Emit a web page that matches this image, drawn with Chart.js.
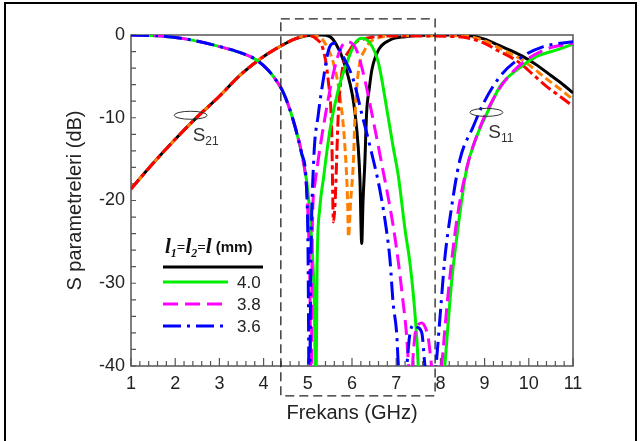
<!DOCTYPE html>
<html>
<head>
<meta charset="utf-8">
<script src="https://cdn.jsdelivr.net/npm/chart.js@4.4.0/dist/chart.umd.min.js"></script>
<style>
  html, body { margin: 0; padding: 0; background: #fff; overflow: hidden; }
  #wrap { position: relative; width: 642px; height: 441px; overflow: hidden; }
  #frame { position: absolute; left: 4px; top: 2px; width: 633px; height: 470px;
           border: 2px solid #000; box-sizing: border-box; pointer-events: none; }
</style>
</head>
<body>
<div id="wrap"><canvas id="chart"></canvas><div id="frame"></div></div>
<script>
// S21 rising part shared by the black / orange / red curves
const s21RiseX = [1, 1.5, 2, 2.5, 3, 3.5, 4, 4.4, 4.7, 5.0];
const s21RiseY = [-18.6, -15.5, -12.6, -9.9, -7.4, -4.7, -2.6, -1.3, -0.5, -0.05];

const blackX = [5.3, 5.5, 5.65, 5.8, 6.0, 6.07, 6.14, 6.18, 6.22, 6.25, 6.29, 6.33, 6.39, 6.45, 6.6, 6.86, 7.2, 7.8, 8.5, 9.0, 9.3, 9.6, 9.9, 10.2, 10.5, 10.8, 11];
const blackY = [0, -0.2, -1.2, -3.0, -7.0, -9.5, -13.5, -17.5, -25.2, -20, -15.5, -9.5, -6.5, -4.2, -1.8, -0.6, -0.2, 0, 0, -0.5, -1.2, -1.9, -2.7, -3.7, -4.9, -6.1, -7.0];

const orangeX = [5.28, 5.45, 5.58, 5.73, 5.84, 5.9, 5.92, 5.97, 6.03, 6.07, 6.14, 6.29, 6.56, 7.0, 8.5, 9.0, 9.27, 9.6, 9.85, 10.1, 10.4, 10.7, 11];
const orangeY = [-0.3, -1.6, -3.4, -7.5, -13.5, -20, -24.4, -20, -15.5, -9.5, -4.6, -1.8, -0.4, -0.1, -0.1, -0.7, -1.4, -2.3, -3.0, -4.0, -5.3, -6.5, -7.8];

const redX = [5.2, 5.35, 5.46, 5.54, 5.58, 5.62, 5.65, 5.69, 5.77, 5.95, 6.33, 7.0, 8.4, 9.0, 9.27, 9.6, 9.8, 10.1, 10.4, 10.7, 11];
const redY = [-0.5, -1.8, -5.4, -11.5, -22.6, -20, -15.5, -9.5, -4.6, -1.8, -0.4, -0.1, -0.2, -1.0, -1.8, -2.7, -3.4, -4.8, -6.2, -7.4, -8.6];

// S11 falling part shared by l = 4.0 / 3.8 / 3.6
const s11FallX = [1, 1.6, 2.26, 3.01, 3.4, 3.77, 4.0, 4.22, 4.45, 4.67, 4.86];
const s11FallY = [0, -0.1, -0.5, -1.4, -2.0, -2.8, -3.7, -5.0, -7.0, -10.3, -14.3];

const greenX = [4.97, 5.03, 5.1, 5.15, 5.18, 5.21, 5.27, 5.35, 5.5, 5.69, 5.88, 6.07, 6.22, 6.41, 6.6, 6.78, 6.93, 7.05, 7.2, 7.31, 7.39, 7.47, 7.5, 7.6, 7.8, 8.0, 8.1, 8.18, 8.26, 8.42, 8.59, 8.82, 9.05, 9.35, 9.73, 10.18, 10.63, 11];
const greenY = [-17.5, -20.5, -26, -33, -46, -28, -21, -17.5, -11.5, -6.6, -3.4, -1.0, -0.4, -1.0, -3.4, -8.7, -13.5, -17.1, -23.5, -27.5, -31.5, -37, -40, -46, -50, -46, -40, -34.5, -29.5, -22.4, -16.3, -12.3, -9.5, -6.2, -4.2, -2.6, -1.8, -1.1];

const magentaX = [4.97, 5.02, 5.05, 5.075, 5.1, 5.16, 5.28, 5.43, 5.58, 5.73, 5.88, 6.1, 6.29, 6.45, 6.67, 6.93, 7.05, 7.15, 7.23, 7.28, 7.33, 7.38, 7.45, 7.58, 7.67, 7.73, 7.8, 7.92, 8.03, 8.1, 8.18, 8.37, 8.6, 8.85, 9.1, 9.45, 9.9, 10.4, 11];
const magentaY = [-18.4, -24, -31, -46, -24, -18, -13.5, -8.7, -4.6, -1.8, -0.8, -1.8, -5.4, -9.5, -15.5, -23, -27.5, -32, -36, -40, -44, -39, -35.5, -34.8, -35.5, -36.8, -40, -45, -40, -35.6, -31, -22.4, -16, -11.8, -8.7, -5.6, -3.2, -1.7, -1.0];

const blueX = [4.97, 5.005, 5.035, 5.07, 5.13, 5.24, 5.35, 5.46, 5.52, 5.6, 5.7, 5.8, 6.03, 6.22, 6.41, 6.63, 6.78, 6.86, 6.93, 7.01, 7.05, 7.14, 7.24, 7.3, 7.39, 7.48, 7.58, 7.65, 7.77, 7.9, 8.0, 8.1, 8.22, 8.44, 8.74, 8.97, 9.35, 9.8, 10.33, 11];
const blueY = [-18.3, -26, -46, -27, -15.5, -9.5, -5.4, -2.0, -1.2, -1.0, -1.6, -2.6, -5.4, -9.5, -13.5, -18.7, -23.6, -27.2, -32.4, -36, -40, -44, -40, -36.5, -35, -35.3, -36, -40, -45, -40, -33.5, -27, -22, -15.1, -11.1, -8.3, -5.0, -2.8, -1.4, -0.8];

const xTicks = [1, 11];        // axis range (GHz)
const yTicks = [-40, 0];       // axis range (dB)
const legendLabels = ['4.0', '3.8', '3.6'];

function pts(xs, ys) {
  return xs.map((x, i) => ({ x: x, y: ys[i] }));
}

const FONT = "'Liberation Sans', Arial, sans-serif";
Chart.defaults.font.family = FONT;
Chart.defaults.color = '#222';

const dashBlue = [18, 6, 3, 6];
const dashMagenta = [15, 7];

function line(label, color, xs, ys, dash) {
  return {
    label: label,
    data: pts(xs, ys),
    borderColor: color,
    borderWidth: 3,
    borderDash: dash,
    pointRadius: 0,
    cubicInterpolationMode: 'monotone',
    fill: false
  };
}

// draws frame, inward ticks, dashed box, ellipses and the custom legend
const overlay = {
  id: 'overlay',
  beforeDatasetsDraw(chart) {
    const { ctx, chartArea: a, scales: { x, y } } = chart;
    ctx.save();
    ctx.strokeStyle = '#555';
    ctx.lineWidth = 1.5;
    ctx.strokeRect(a.left, a.top, a.right - a.left, a.bottom - a.top);
    ctx.lineWidth = 1.2;
    ctx.beginPath();
    for (let i = 0; i <= 50; i++) {
      const v = 1 + i * 0.2;
      const px = x.getPixelForValue(v);
      const len = i % 5 === 0 ? 8 : 5;
      ctx.moveTo(px, a.bottom);
      ctx.lineTo(px, a.bottom - len);
    }
    for (let v = -40; v <= 0; v += 2) {
      const py = y.getPixelForValue(v);
      ctx.moveTo(a.left, py);
      ctx.lineTo(a.left + 5, py);
    }
    ctx.stroke();
    ctx.restore();
  },
  afterDatasetsDraw(chart) {
    const { ctx, chartArea: a, scales: { x, y } } = chart;
    ctx.save();

    // dashed box around the stop band
    const bx0 = x.getPixelForValue(4.39), bx1 = x.getPixelForValue(7.88);
    const by0 = y.getPixelForValue(1.95), by1 = y.getPixelForValue(-43.6);
    ctx.setLineDash([9, 5]);
    ctx.strokeStyle = '#222';
    ctx.lineWidth = 1.3;
    ctx.strokeRect(bx0, by0, bx1 - bx0, by1 - by0);
    ctx.setLineDash([]);

    // ellipses + labels
    function tag(xv, yv, sub) {
      const cx = x.getPixelForValue(xv), cy = y.getPixelForValue(yv);
      ctx.strokeStyle = '#333';
      ctx.lineWidth = 1;
      ctx.beginPath();
      ctx.ellipse(cx, cy, 16.5, 4, 0, 0, Math.PI * 2);
      ctx.stroke();
      ctx.fillStyle = '#333';
      ctx.textAlign = 'left';
      ctx.textBaseline = 'alphabetic';
      ctx.font = '19px ' + FONT;
      ctx.fillText('S', cx + 2, cy + 26);
      const w = ctx.measureText('S').width;
      ctx.font = '12px ' + FONT;
      ctx.fillText(sub, cx + 2 + w, cy + 30);
    }
    tag(2.35, -9.7, '21');
    tag(9.04, -9.35, '11');

    // legend header  l1=l2=l (mm)
    let lx = a.left + 34;
    const lb = a.top + 218;
    ctx.fillStyle = '#111';
    const parts = [
      ['l', 'italic bold 21px "Liberation Serif", serif', 0],
      ['1', 'italic bold 12px "Liberation Serif", serif', 4],
      ['=', 'bold 15px "Liberation Serif", serif', -1],
      ['l', 'italic bold 21px "Liberation Serif", serif', 0],
      ['2', 'italic bold 12px "Liberation Serif", serif', 4],
      ['=', 'bold 15px "Liberation Serif", serif', -1],
      ['l', 'italic bold 21px "Liberation Serif", serif', 0],
      [' (mm)', 'bold 15px ' + FONT, -1]
    ];
    parts.forEach(p => {
      ctx.font = p[1];
      ctx.fillText(p[0], lx, lb + p[2]);
      lx += ctx.measureText(p[0]).width;
    });
    ctx.strokeStyle = '#000';
    ctx.lineWidth = 3;
    ctx.beginPath();
    ctx.moveTo(a.left + 32, a.top + 232);
    ctx.lineTo(a.left + 132, a.top + 232);
    ctx.stroke();

    const legColors = ['#00ee00', '#ff00ff', '#0000ff'];
    const legDash = [[], dashMagenta, dashBlue];
    legendLabels.forEach((t, i) => {
      const ly = a.top + 247 + i * 22;
      ctx.strokeStyle = legColors[i];
      ctx.lineWidth = 3;
      ctx.setLineDash(legDash[i]);
      ctx.beginPath();
      ctx.moveTo(a.left + 32, ly);
      ctx.lineTo(a.left + 97, ly);
      ctx.stroke();
      ctx.setLineDash([]);
      ctx.fillStyle = '#222';
      ctx.font = '17px ' + FONT;
      ctx.textBaseline = 'middle';
      ctx.fillText(t, a.left + 106, ly + 1);
      ctx.textBaseline = 'alphabetic';
    });
    ctx.restore();
  }
};

new Chart(document.getElementById('chart'), {
  type: 'line',
  data: {
    datasets: [
      line('3.6', '#0000ff', s11FallX.concat(blueX), s11FallY.concat(blueY), dashBlue),
      line('3.8', '#ff00ff', s11FallX.concat(magentaX), s11FallY.concat(magentaY), dashMagenta),
      line('4.0', '#00ee00', s11FallX.concat(greenX), s11FallY.concat(greenY), []),
      line('red', '#ff0000', s21RiseX.concat(redX), s21RiseY.concat(redY), [12, 4, 4, 4]),
      line('orange', '#ff8000', s21RiseX.concat(orangeX), s21RiseY.concat(orangeY), [8, 4]),
      line('black', '#000000', s21RiseX.concat(blackX), s21RiseY.concat(blackY), [])
    ]
  },
  options: {
    responsive: true,
    maintainAspectRatio: false,
    animation: false,
    layout: { padding: { left: 0, right: 69, top: 35, bottom: 0 } },
    plugins: { legend: { display: false }, tooltip: { enabled: false } },
    scales: {
      x: {
        type: 'linear',
        min: xTicks[0],
        max: xTicks[1],
        afterFit: s => { s.height = 75; },
        grid: { display: false, drawTicks: false },
        border: { display: false },
        ticks: { stepSize: 1, padding: 7, color: '#222', font: { size: 18 } },
        title: { display: true, text: 'Frekans (GHz)', color: '#222',
                 font: { size: 20 }, padding: { top: 0, bottom: 16 } }
      },
      y: {
        min: yTicks[0],
        max: yTicks[1],
        afterFit: s => { s.width = 131; },
        grid: { display: false, drawTicks: false },
        border: { display: false },
        ticks: { stepSize: 10, padding: 6, color: '#222', font: { size: 18 } },
        title: { display: true, text: 'S parametreleri (dB)', color: '#222',
                 font: { size: 20 }, padding: { top: 63, bottom: 0 } }
      }
    }
  },
  plugins: [overlay]
});
</script>
</body>
</html>
